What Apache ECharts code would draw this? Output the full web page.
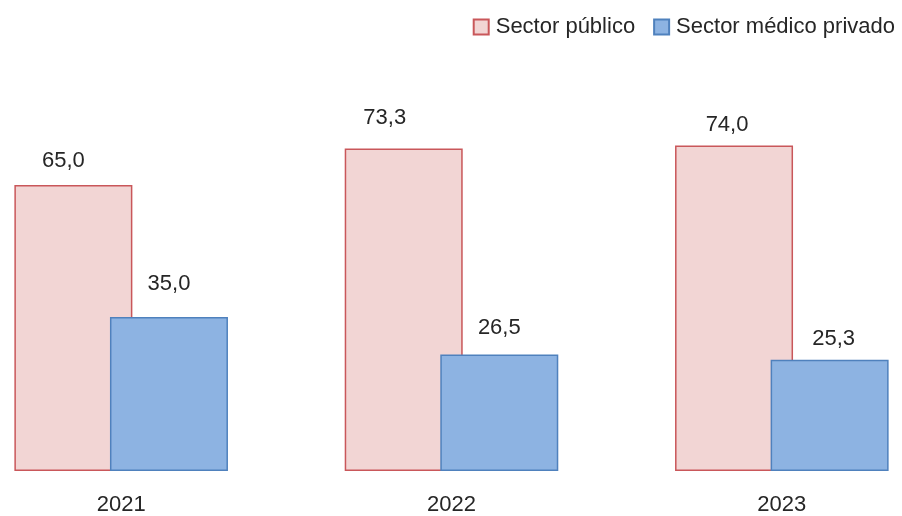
<!DOCTYPE html>
<html>
<head>
<meta charset="utf-8">
<script src="https://cdn.jsdelivr.net/npm/echarts@6/dist/echarts.min.js"></script>
<style>
  html, body { margin: 0; padding: 0; background: #fff; overflow: hidden; }
  /* plot is a bit wider than the window, the outer category bands get cut */
  #chart { position: relative; left: -44px; width: 991px; height: 516px; }
</style>
</head>
<body>
<div id="chart"></div>
<script>
const years = ['2021', '2022', '2023'];
const publico = [65.0, 73.3, 74.0];
const privado = [35.0, 26.5, 25.3];

// label nudges (x shift, gap above bar) to mimic the original placement
const publicoLabelPos = [[-10, 18], [-19, 25], [-7, 14]];
const privadoLabelPos = [[0, 27], [0, 20], [4, 15]];

const FONT = "'Liberation Sans', Arial, sans-serif";

const fmt = v => v.toFixed(1).replace('.', ',');

const withLabels = (values, pos) => values.map((v, i) => ({
  value: v,
  label: { offset: [pos[i][0], -(pos[i][1] - 5)] }
}));

const chart = echarts.init(document.getElementById('chart'));

const option = {
  animation: false,
  legend: {
    right: 47,
    top: 11,
    itemWidth: 15,
    itemHeight: 15,
    itemGap: 18,
    icon: 'rect',
    textStyle: { fontFamily: FONT, fontSize: 22, color: '#262626', padding: [0, 0, 0, 2] },
    data: ['Sector público', 'Sector médico privado']
  },
  grid: {
    left: 0,
    right: 0,
    top: 119,
    bottom: 45
  },
  xAxis: {
    type: 'category',
    data: years,
    axisLine: { show: false },
    axisTick: { show: false },
    axisLabel: { margin: 23, fontFamily: FONT, fontSize: 22, color: '#262626' }
  },
  yAxis: {
    type: 'value',
    min: 0,
    max: 80,
    show: false,
    splitLine: { show: false }
  },
  series: [
    {
      name: 'Sector público',
      type: 'bar',
      barWidth: 118,
      barGap: '-19%',
      data: withLabels(publico, publicoLabelPos),
      itemStyle: { color: '#f2d5d4', borderColor: '#c9575a', borderWidth: 1.5 },
      label: {
        show: true,
        position: 'top',
        distance: 0,
        fontFamily: FONT,
        fontSize: 22,
        color: '#262626',
        formatter: p => fmt(p.value)
      }
    },
    {
      name: 'Sector médico privado',
      type: 'bar',
      barWidth: 118,
      data: withLabels(privado, privadoLabelPos),
      itemStyle: { color: '#8db3e2', borderColor: '#4f81bd', borderWidth: 1.5 },
      label: {
        show: true,
        position: 'top',
        distance: 0,
        fontFamily: FONT,
        fontSize: 22,
        color: '#262626',
        formatter: p => fmt(p.value)
      }
    }
  ]
};

chart.setOption(option);
</script>
</body>
</html>
